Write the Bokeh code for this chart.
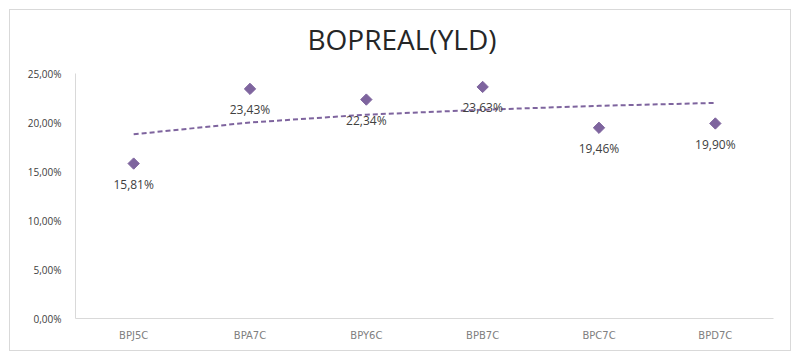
import math
from bokeh.plotting import figure
from bokeh.models import ColumnDataSource, LabelSet, FixedTicker, Range1d
from bokeh.core.properties import value
from bokeh.embed import file_html
from bokeh.resources import INLINE

categories = ["BPJ5C", "BPA7C", "BPY6C", "BPB7C", "BPC7C", "BPD7C"]
yields = [15.81, 23.43, 22.34, 23.63, 19.46, 19.90]
trend = [18.8, 20.0, 20.8, 21.3, 21.7, 22.0]
y_ticks = [0, 5, 10, 15, 20, 25]
y_tick_labels = ["0,00%", "5,00%", "10,00%", "15,00%", "20,00%", "25,00%"]
title_text = "BOPREAL(YLD)"

labels = [("%.2f" % v).replace(".", ",") + "%" for v in yields]
src = ColumnDataSource(dict(x=categories, y=yields, lab=labels))

p = figure(width=800, height=360, x_range=categories, y_range=Range1d(0, 25),
           output_backend="svg", toolbar_location=None,
           min_border_left=75, min_border_right=27, min_border_top=73, min_border_bottom=42)
p.styles = {"background-color": "white",
            "box-shadow": "inset 0 0 0 9px white, inset 0 0 0 10px #d9d9d9"}
p.title.text = title_text
p.title.align = "left"
p.title.offset = 232
p.title.standoff = 31
p.title.text_font = "Open Sans"
p.title.text_font_size = "28px"
p.title.text_font_style = "normal"
p.title.text_color = "#262626"
p.outline_line_color = None
p.grid.visible = False
p.background_fill_color = "white"
p.border_fill_color = None

p.line(x=categories, y=trend, line_color="#7E649E", line_width=2, line_dash="5 3")
p.scatter("x", "y", source=src, marker="square", angle=math.pi / 4, size=8,
          fill_color="#7E649E", line_color="#7E649E")

p.add_layout(LabelSet(x="x", y="y", text="lab", source=src, y_offset=-21, text_align="center",
                      text_baseline="middle", text_font_size="12px", text_color="#404040",
                      text_font=value("Open Sans")))

p.yaxis.ticker = FixedTicker(ticks=y_ticks)
p.yaxis.major_label_overrides = {t: l for t, l in zip(y_ticks, y_tick_labels)}
p.yaxis.major_label_text_font_size = "10px"
p.yaxis.major_label_text_color = "#404040"
p.yaxis.major_label_text_font = "Open Sans"
p.xaxis.major_label_text_font_size = "10px"
p.xaxis.major_label_text_color = "#808080"
p.xaxis.major_label_text_font = "DejaVu Sans"
for ax in (p.xaxis, p.yaxis):
    ax.axis_line_color = "#d9d9d9"
    ax.major_tick_line_color = None
    ax.minor_tick_line_color = None
p.yaxis.major_label_standoff = 8
p.xaxis.major_label_standoff = 5

open("out.html", "w").write(file_html(p, INLINE))
